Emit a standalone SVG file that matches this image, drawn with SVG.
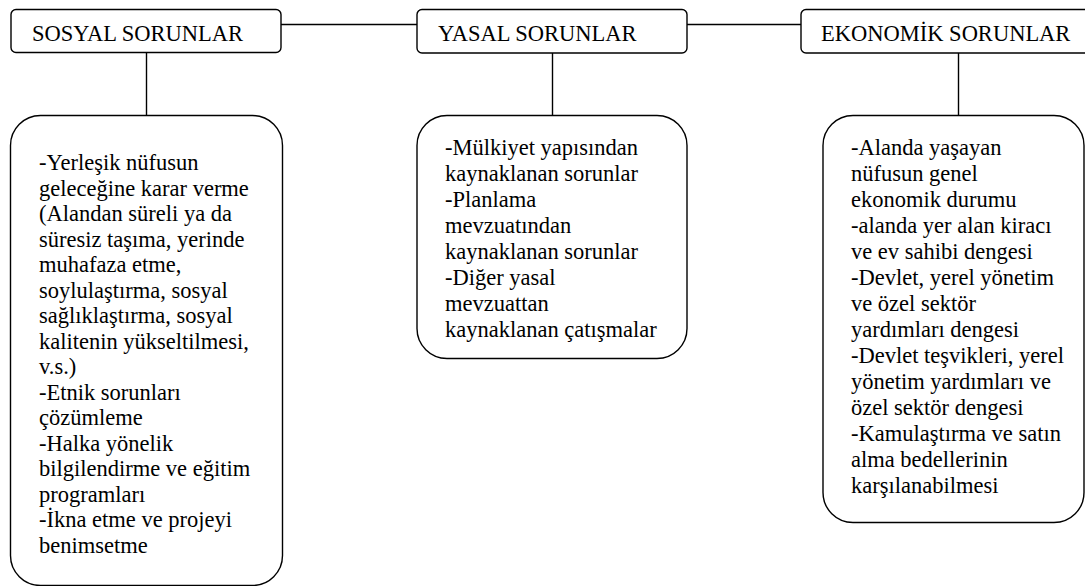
<svg xmlns="http://www.w3.org/2000/svg" width="1085" height="586" viewBox="0 0 1085 586" font-family="Liberation Serif" font-size="22.5">
<style>
text{font-family:'Liberation Serif';font-size:22.5px;fill:#000}
.box{fill:#fff;stroke:#000;stroke-width:1.4}
.con{fill:none;stroke:#000;stroke-width:1.4}
</style>
<rect width="1085" height="586" fill="#fff"/>
<g id="connectors">
<line class="con" x1="281" y1="24.5" x2="417" y2="24.5"/>
<line class="con" x1="687" y1="24.5" x2="801" y2="24.5"/>
<line class="con" x1="146.5" y1="52" x2="146.5" y2="115.5"/>
<line class="con" x1="552.5" y1="53" x2="552.5" y2="115.5"/>
<line class="con" x1="958.5" y1="53" x2="958.5" y2="115.5"/>
</g>
<g id="sosyal">
<rect class="box" x="11" y="9.5" width="270" height="43" rx="5"/>
<text x="32" y="41" font-family="Liberation Serif">SOSYAL SORUNLAR</text>
</g>
<g id="yasal">
<rect class="box" x="417" y="9.5" width="270" height="43.5" rx="5"/>
<text x="438" y="41" font-family="Liberation Serif">YASAL SORUNLAR</text>
</g>
<g id="ekonomik">
<rect class="box" x="801" y="9.5" width="300" height="43.5" rx="5"/>
<text x="821" y="41" font-family="Liberation Serif">EKONOMİK SORUNLAR</text>
</g>
<g id="sosyal-detay">
<rect class="box" x="10.5" y="115.5" width="272" height="470" rx="30"/>
<text x="39" y="170" font-family="Liberation Serif">-Yerleşik nüfusun</text>
<text x="39" y="195.5" font-family="Liberation Serif">geleceğine karar verme</text>
<text x="39" y="221" font-family="Liberation Serif">(Alandan süreli ya da</text>
<text x="39" y="246.5" font-family="Liberation Serif">süresiz taşıma, yerinde</text>
<text x="39" y="272" font-family="Liberation Serif">muhafaza etme,</text>
<text x="39" y="297.5" font-family="Liberation Serif">soylulaştırma, sosyal</text>
<text x="39" y="323" font-family="Liberation Serif">sağlıklaştırma, sosyal</text>
<text x="39" y="348.5" font-family="Liberation Serif">kalitenin yükseltilmesi,</text>
<text x="39" y="374" font-family="Liberation Serif">v.s.)</text>
<text x="39" y="399.5" font-family="Liberation Serif">-Etnik sorunları</text>
<text x="39" y="425" font-family="Liberation Serif">çözümleme</text>
<text x="39" y="450.5" font-family="Liberation Serif">-Halka yönelik</text>
<text x="39" y="476" font-family="Liberation Serif">bilgilendirme ve eğitim</text>
<text x="39" y="501.5" font-family="Liberation Serif">programları</text>
<text x="39" y="527" font-family="Liberation Serif">-İkna etme ve projeyi</text>
<text x="39" y="552.5" font-family="Liberation Serif">benimsetme</text>
</g>
<g id="yasal-detay">
<rect class="box" x="417" y="115.5" width="270" height="243" rx="30"/>
<text x="445" y="155" font-family="Liberation Serif">-Mülkiyet yapısından</text>
<text x="445" y="181" font-family="Liberation Serif">kaynaklanan sorunlar</text>
<text x="445" y="207" font-family="Liberation Serif">-Planlama</text>
<text x="445" y="233" font-family="Liberation Serif">mevzuatından</text>
<text x="445" y="259" font-family="Liberation Serif">kaynaklanan sorunlar</text>
<text x="445" y="285" font-family="Liberation Serif">-Diğer yasal</text>
<text x="445" y="311" font-family="Liberation Serif">mevzuattan</text>
<text x="445" y="337" font-family="Liberation Serif">kaynaklanan çatışmalar</text>
</g>
<g id="ekonomik-detay">
<rect class="box" x="823" y="115.5" width="261" height="407" rx="30"/>
<text x="851" y="155" font-family="Liberation Serif">-Alanda yaşayan</text>
<text x="851" y="181" font-family="Liberation Serif">nüfusun genel</text>
<text x="851" y="207" font-family="Liberation Serif">ekonomik durumu</text>
<text x="851" y="233" font-family="Liberation Serif">-alanda yer alan kiracı</text>
<text x="851" y="259" font-family="Liberation Serif">ve ev sahibi dengesi</text>
<text x="851" y="285" font-family="Liberation Serif">-Devlet, yerel yönetim</text>
<text x="851" y="311" font-family="Liberation Serif">ve özel sektör</text>
<text x="851" y="337" font-family="Liberation Serif">yardımları dengesi</text>
<text x="851" y="363" font-family="Liberation Serif">-Devlet teşvikleri, yerel</text>
<text x="851" y="389" font-family="Liberation Serif">yönetim yardımları ve</text>
<text x="851" y="415" font-family="Liberation Serif">özel sektör dengesi</text>
<text x="851" y="441" font-family="Liberation Serif">-Kamulaştırma ve satın</text>
<text x="851" y="467" font-family="Liberation Serif">alma bedellerinin</text>
<text x="851" y="493" font-family="Liberation Serif">karşılanabilmesi</text>
</g>
</svg>
